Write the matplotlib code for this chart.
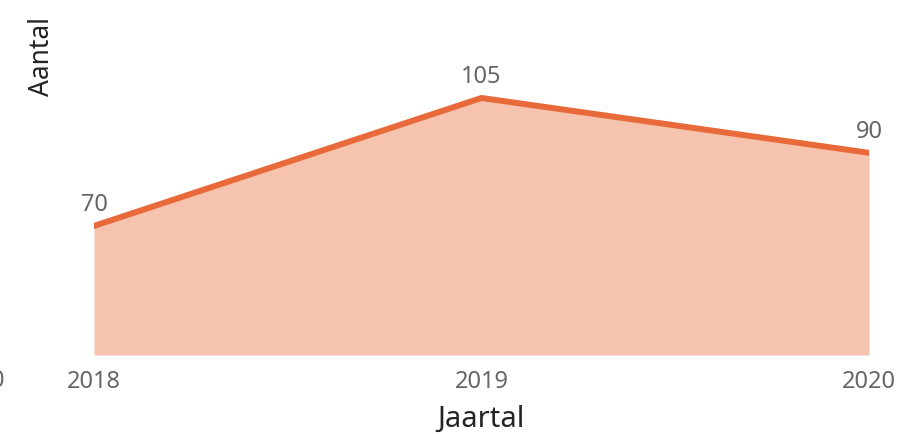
import matplotlib

matplotlib.use("Agg")
import matplotlib.pyplot as plt

plt.rcParams["font.family"] = ["Noto Sans", "DejaVu Sans"]

years = [2018, 2019, 2020]
counts = [70, 105, 90]
year_labels = ["2018", "2019", "2020"]

line_c = "#E8693A"
fill_c = "#F5C3AE"
grey = "#666666"

fig = plt.figure(figsize=(9.11, 4.35), dpi=100)
ax = fig.add_axes([94 / 911, 1 - 356 / 435, 775 / 911, 336 / 435])

ymin, ymax = 34.7, 126.6
ax.fill_between(years, counts, ymin, color=fill_c, lw=0)
ax.plot(years, counts, color=line_c, lw=4.3, solid_capstyle="round", solid_joinstyle="round")

for x, v in zip(years, counts):
    ax.annotate(str(v), (x, v), xytext=(0, 11.5), textcoords="offset points",
                ha="center", va="baseline", fontsize=17, color=grey)

ax.set_xlim(years[0], years[-1])
ax.set_ylim(ymin, ymax)
ax.set_xticks(years)
ax.set_xticklabels(year_labels)
ax.tick_params(axis="x", length=0, pad=10, labelsize=17, labelcolor=grey)
ax.set_yticks([])
for s in ax.spines.values():
    s.set_visible(False)

fig.text(481 / 911, 1 - 427 / 435, "Jaartal", ha="center", va="baseline",
         fontsize=21, color="#252423")
fig.text(42 / 911, 1 - 56 / 435, "Aantal", ha="center", va="center",
         rotation=90, fontsize=19, color="#252423")
# y-axis zero label, mostly cut off at the left edge
fig.text(4 / 911, 1 - 381 / 435, "0", ha="right", va="center",
         fontsize=17, color=grey)

fig.savefig("out.png", dpi=100)
